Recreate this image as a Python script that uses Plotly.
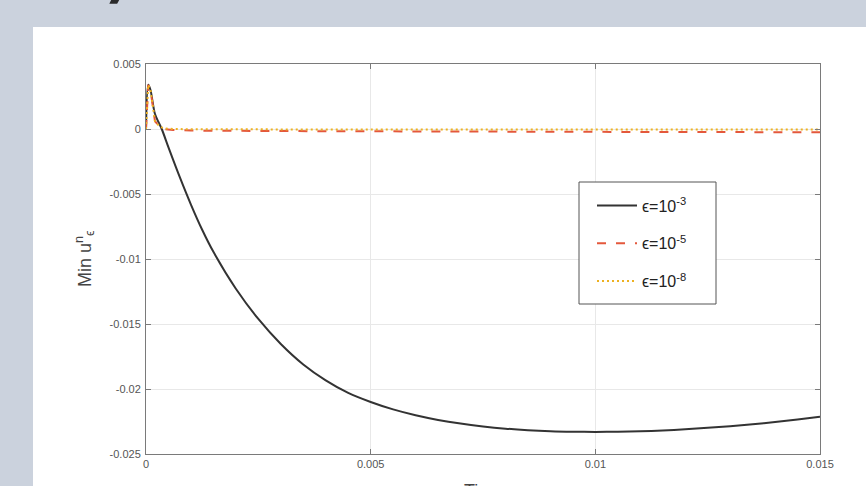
import plotly.graph_objects as go

# Minimum of u over time for three epsilon values
t_e3 = [0, 0.00005, 0.0001, 0.0002, 0.00035, 0.0005, 0.00075, 0.001, 0.00125, 0.0015,
        0.002, 0.0025, 0.003, 0.0035, 0.004, 0.0045, 0.005, 0.0055, 0.006, 0.0065,
        0.007, 0.0075, 0.008, 0.0085, 0.009, 0.0095, 0.01, 0.0105, 0.011, 0.0115,
        0.012, 0.0125, 0.013, 0.0135, 0.014, 0.0145, 0.015]
u_e3 = [0.0, 0.0034, 0.0030, 0.00115, 0.0, -0.00141, -0.003685, -0.00581, -0.00775, -0.00945,
        -0.012285, -0.01461, -0.016535, -0.01811, -0.019335, -0.0203, -0.0210, -0.02157, -0.02202, -0.02238,
        -0.02266, -0.02288, -0.02305, -0.02317, -0.02325, -0.02329, -0.0233, -0.02329, -0.02325, -0.02319,
        -0.0231, -0.02299, -0.02286, -0.02271, -0.02254, -0.02235, -0.02214]

t_e5 = [0, 0.00005, 0.0001, 0.0002, 0.0003, 0.0004, 0.0006, 0.001, 0.003, 0.006, 0.01, 0.015]
u_e5 = [0.0, 0.0034, 0.0030, 0.0006, 0.0002, 0.0, -0.00008, -0.00012, -0.00016, -0.0002, -0.00022, -0.00025]

t_e8 = [0, 0.00005, 0.0001, 0.0002, 0.0003, 0.0004, 0.0006, 0.001, 0.003, 0.006, 0.01, 0.015]
u_e8 = [0.0, 0.0034, 0.0030, 0.0006, 0.0002, 0.00005, 0.0, -0.00002, -0.00003, -0.00004, -0.00004, -0.00004]

x_ticks = [0, 0.005, 0.01, 0.015]
x_tick_text = ["0", "0.005", "0.01", "0.015"]
y_ticks = [0.005, 0, -0.005, -0.01, -0.015, -0.02, -0.025]
y_tick_text = ["0.005", "0", "-0.005", "-0.01", "-0.015", "-0.02", "-0.025"]

names = ["ϵ=10<sup>-3</sup>", "ϵ=10<sup>-5</sup>", "ϵ=10<sup>-8</sup>"]

W, H = 866, 486
L, R, T, B = 146, 820, 64, 454


def px(x):
    return (x - L) / (R - L)


def py(y):
    return (B - y) / (B - T)


fig = go.Figure()
fig.add_trace(go.Scatter(x=t_e3, y=u_e3, mode="lines", name=names[0], legendgroup="a",
                         line=dict(color="#333333", width=2, shape="spline", smoothing=0.8)))
fig.add_trace(go.Scatter(x=t_e5, y=u_e5, mode="lines", name=names[1], legendgroup="b",
                         line=dict(color="#e4583c", width=2, dash="9px,10px")))
fig.add_trace(go.Scatter(x=t_e8, y=u_e8, mode="lines", name=names[2], legendgroup="c",
                         line=dict(color="#edb120", width=2, dash="2px,3px")))

axis_common = dict(
    showline=True, linecolor="#7a7a7a", linewidth=1, mirror="ticks",
    ticks="inside", ticklen=5, tickcolor="#7a7a7a",
    showgrid=True, gridcolor="#e8e8e8", gridwidth=1, zeroline=False,
    tickfont=dict(family="Liberation Sans, Arial, sans-serif", size=11, color="#555555"),
)

fig.update_xaxes(range=[0, 0.015], tickvals=x_ticks, ticktext=x_tick_text, **axis_common)
fig.update_yaxes(range=[-0.025, 0.005], tickvals=y_ticks, ticktext=y_tick_text, ticklabelstandoff=2, **axis_common)

fig.update_layout(
    width=W, height=H,
    margin=dict(l=L, r=W - R, t=T, b=H - B),
    paper_bgcolor="#cbd2dd",
    plot_bgcolor="white",
    showlegend=True,
    legend=dict(
        x=px(592), y=py(182), xanchor="left", yanchor="top",
        bgcolor="rgba(0,0,0,0)", borderwidth=0,
        font=dict(family="Liberation Sans, Arial, sans-serif", size=16, color="#222222"),
        tracegroupgap=14, itemwidth=40,
        title=dict(text=" ", font=dict(size=5)),
    ),
    shapes=[
        dict(type="rect", xref="paper", yref="paper",
             x0=px(33), x1=px(866), y0=py(486), y1=py(27),
             fillcolor="white", line=dict(width=0), layer="below"),
        # legend frame
        dict(type="rect", xref="paper", yref="paper",
             x0=px(579), x1=px(716), y0=py(304), y1=py(182),
             fillcolor="white", line=dict(color="#555555", width=1), layer="above"),
    ],
    annotations=[
        dict(text="Min u<sup>n</sup><sub>ϵ</sub>", xref="paper", yref="paper",
             x=px(84), y=0.5, textangle=-90, showarrow=False,
             xanchor="center", yanchor="middle",
             font=dict(family="Liberation Sans, Arial, sans-serif", size=18, color="#444444")),
        dict(text="Time", xref="paper", yref="paper",
             x=0.5, y=py(491), showarrow=False, xanchor="center", yanchor="middle",
             font=dict(family="Liberation Sans, Arial, sans-serif", size=18, color="#444444")),
        dict(text="<b>)</b>", xref="paper", yref="paper",
             x=px(117), y=py(12), showarrow=False, xanchor="center", yanchor="bottom",
             font=dict(family="DejaVu Sans, sans-serif", size=54, color="#2b2b2b")),
    ],
)

fig.write_html("out.html")
